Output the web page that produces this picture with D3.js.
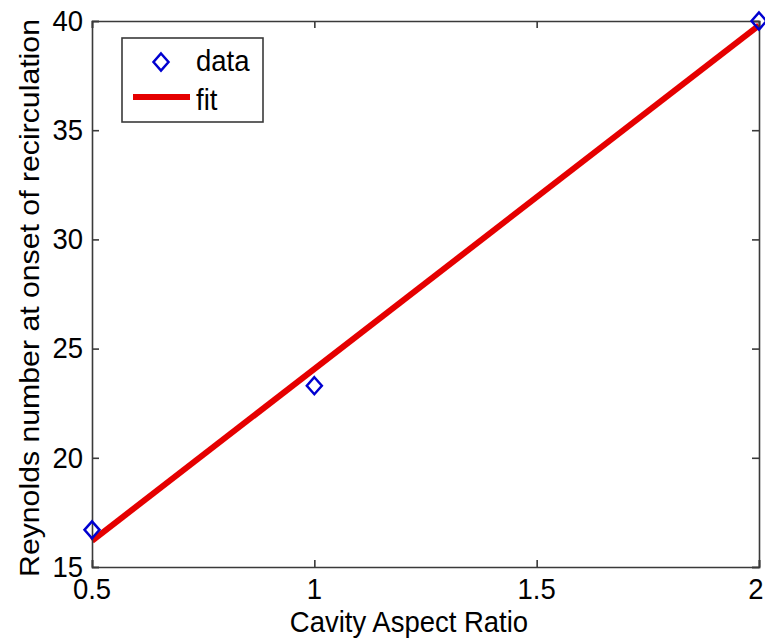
<!DOCTYPE html>
<html>
<head>
<meta charset="utf-8">
<script src="https://cdn.jsdelivr.net/npm/d3@7"></script>
<style>
  html, body { margin: 0; padding: 0; background: #fff; }
  svg { display: block; }
  text { font-family: "Liberation Sans", Arial, sans-serif; fill: #000; }
</style>
</head>
<body>
<script>
// ---- data ----
const dataX = [0.5, 1, 2];
const dataY = [16.7, 23.3, 40];
const fitX = [0.5, 2];
const fitY = [16.2, 39.8];
const xTicks = [0.5, 1, 1.5, 2];
const xTickLabels = ["0.5", "1", "1.5", "2"];
const yTicks = [15, 20, 25, 30, 35, 40];
const yTickLabels = ["15", "20", "25", "30", "35", "40"];
const legendLabels = ["data", "fit"];
const xLabel = "Cavity Aspect Ratio";
const yLabel = "Reynolds number at onset of recirculation";

// ---- layout ----
const W = 765, H = 641;
const L = 92, R = 759, T = 21, B = 567;
const axisColor = "#3a3a3a";
const blue = "#0000d0";
const red = "#e50000";
const fs = 27.5;
const sy = 1.1; // vertical stretch of the text in the reference

const svg = d3.select("body").append("svg").attr("width", W).attr("height", H);

const x = d3.scaleLinear().domain([0.5, 2]).range([L, R]);
const y = d3.scaleLinear().domain([15, 40]).range([B, T]);

function txt(g, px, py, s, anchor, rot) {
  const sc = rot ? `scale(${sy},1)` : `scale(1,${sy})`;
  return g.append("text")
    .attr("transform", `translate(${px},${py})` + (rot ? ` rotate(${rot})` : "") + " " + sc)
    .attr("text-anchor", anchor || "start")
    .attr("font-size", fs)
    .text(s);
}

// fit line
const line = d3.line().x(d => x(d[0])).y(d => y(d[1]));
svg.append("path")
  .datum(fitX.map((v, i) => [v, fitY[i]]))
  .attr("d", line)
  .attr("fill", "none")
  .attr("stroke", red)
  .attr("stroke-width", 6);

// diamond marker
function diamond(g, cx, cy) {
  const w = 7.5, h = 8.5;
  g.append("path")
    .attr("d", `M${cx},${cy - h}L${cx + w},${cy}L${cx},${cy + h}L${cx - w},${cy}Z`)
    .attr("fill", "none")
    .attr("stroke", blue)
    .attr("stroke-width", 2.5);
}

// axes box with inward ticks
const tickLen = 7;
const ax = svg.append("g");
ax.append("g").attr("transform", `translate(0,${B})`)
  .call(d3.axisBottom(x).tickValues(xTicks).tickFormat("").tickSize(-tickLen));
ax.append("g").attr("transform", `translate(0,${T})`)
  .call(d3.axisTop(x).tickValues(xTicks).tickFormat("").tickSize(-tickLen));
ax.append("g").attr("transform", `translate(${L},0)`)
  .call(d3.axisLeft(y).tickValues(yTicks).tickFormat("").tickSize(-tickLen));
ax.append("g").attr("transform", `translate(${R},0)`)
  .call(d3.axisRight(y).tickValues(yTicks).tickFormat("").tickSize(-tickLen));
ax.selectAll(".domain").attr("stroke", axisColor).attr("stroke-width", 1.6);
ax.selectAll(".tick line").attr("stroke", axisColor).attr("stroke-width", 1.6);

// tick labels
const tl = svg.append("g");
xTicks.forEach((v, i) => {
  const px = Math.min(x(v), W - 9);
  txt(tl, px, 599, xTickLabels[i], "middle");
});
yTicks.forEach((v, i) => {
  txt(tl, 83, y(v) + 9.8, yTickLabels[i], "end");
});

// data markers
const mk = svg.append("g");
dataX.forEach((v, i) => diamond(mk, x(v), y(dataY[i])));

// axis labels
txt(svg, 409, 632, xLabel, "middle");
txt(svg, 39, 298, yLabel, "middle", -90);

// legend
const lg = svg.append("g");
lg.append("rect")
  .attr("x", 122).attr("y", 38).attr("width", 141).attr("height", 84)
  .attr("fill", "#fff").attr("stroke", axisColor).attr("stroke-width", 1.6);
diamond(lg, 161, 62);
txt(lg, 196, 71, legendLabels[0]);
lg.append("line").attr("x1", 133).attr("x2", 190).attr("y1", 97).attr("y2", 97)
  .attr("stroke", red).attr("stroke-width", 6);
txt(lg, 196, 110, legendLabels[1]);
</script>
</body>
</html>
